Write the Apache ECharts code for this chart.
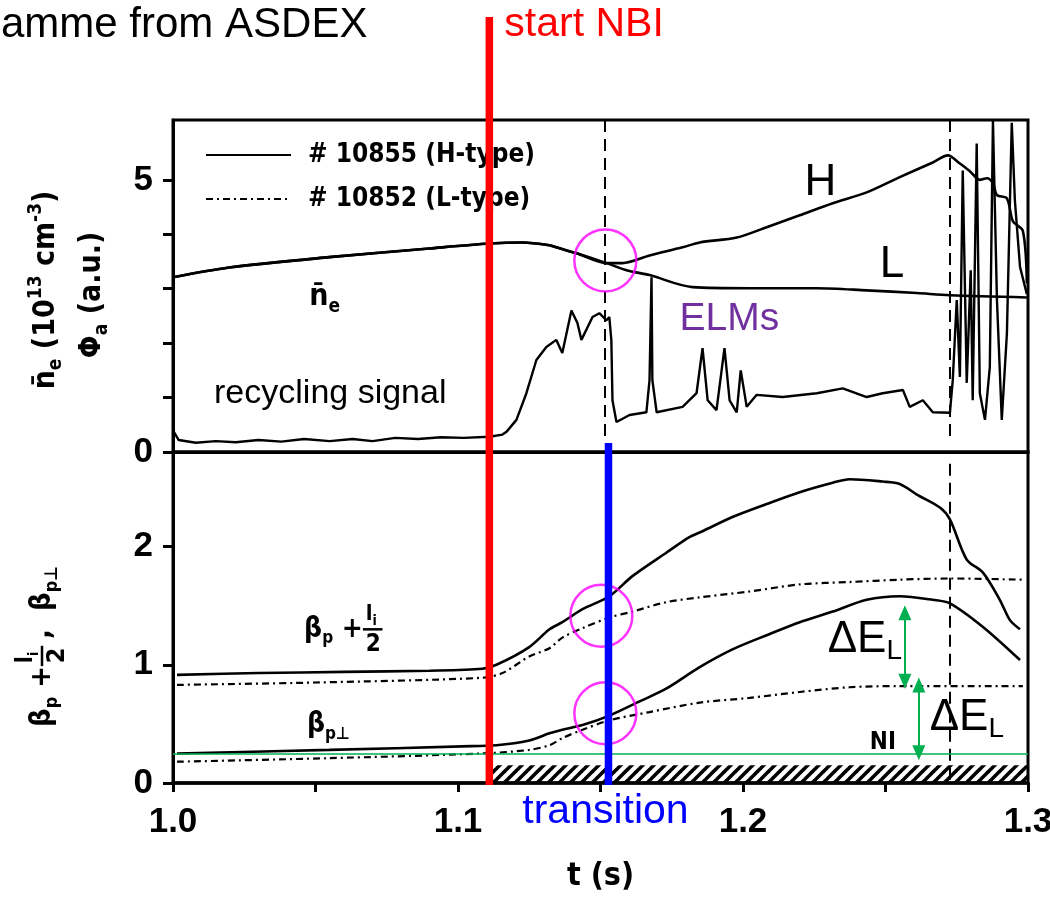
<!DOCTYPE html>
<html><head><meta charset="utf-8">
<script src="https://cdn.jsdelivr.net/npm/echarts@6/dist/echarts.min.js"></script>
<style>html,body{margin:0;padding:0;background:#fff}#c{width:1050px;height:901px}</style>
</head><body><div id="c"></div>
<script>
// ---------------- data (t in s) ----------------
const xTickValues = [1.0, 1.05, 1.1, 1.15, 1.2, 1.25, 1.3];
const xLabelValues = [1.0, 1.1, 1.2, 1.3];
const topTickValues = [0, 1, 2, 3, 4, 5];
const topLabelValues = [0, 5];
const botTickValues = [0, 1, 2];
const botLabelValues = [0, 1, 2];

const nbiStart = 1.111;
const transitionT = 1.1528;
const dashTimes = [1.1514, 1.2726];
const niLevel = 0.245;
const hatchTop = 0.15;

// top panel: line-averaged density (both shots identical before transition)
const neCommon = [[1.0,3.21],[1.0197,3.39],[1.0548,3.58],[1.0899,3.74],[1.111,3.83],[1.1226,3.85],[1.1321,3.80],[1.1345,3.76],[1.1416,3.65],[1.1521,3.47]];
const neH = [[1.1577,3.47],[1.1672,3.61],[1.1788,3.76],[1.1848,3.85],[1.1978,3.94],[1.2083,4.13],[1.2199,4.35],[1.2315,4.57],[1.2434,4.77],[1.255,5.05],[1.2666,5.32],[1.2719,5.45],[1.2761,5.30],[1.2796,5.16],[1.2831,5.0],[1.2856,5.03],[1.2877,4.94],[1.2891,4.72],[1.2926,4.66],[1.2947,4.24],[1.2982,4.06],[1.2996,3.1]];
const neL = [[1.1591,3.34],[1.1672,3.25],[1.1823,3.03],[1.2023,3.01],[1.2259,3.01],[1.2434,2.97],[1.261,2.92],[1.2726,2.88],[1.2996,2.84]];
// recycling signal (H shot)
const phiA = [[1.0,0.40],[1.002,0.22],[1.008,0.17],[1.015,0.2],[1.022,0.18],[1.03,0.22],[1.038,0.19],[1.046,0.24],[1.055,0.2],[1.063,0.24],[1.07,0.2],[1.078,0.26],[1.086,0.24],[1.094,0.27],[1.102,0.26],[1.111,0.28],[1.1156,0.32],[1.117,0.37],[1.1205,0.59],[1.124,1.08],[1.1275,1.69],[1.131,1.93],[1.1345,2.06],[1.1366,1.82],[1.1398,2.6],[1.1419,2.37],[1.1433,2.06],[1.1472,2.48],[1.1496,2.55],[1.1521,2.42],[1.1531,2.48],[1.1538,2.06],[1.1542,0.95],[1.1556,0.55],[1.1602,0.68],[1.1661,0.73],[1.1672,1.32],[1.1679,3.21],[1.1682,1.32],[1.1697,0.73],[1.1788,0.83],[1.1837,1.08],[1.1858,1.91],[1.1876,0.95],[1.1907,0.77],[1.1935,1.91],[1.1953,0.95],[1.1978,0.73],[1.1992,1.50],[1.2013,0.83],[1.2048,1.05],[1.2139,1.01],[1.2259,1.08],[1.235,1.17],[1.2434,1.01],[1.249,1.08],[1.2561,1.14],[1.2585,0.83],[1.2631,0.95],[1.2666,0.73],[1.2726,0.72],[1.2736,1.32],[1.275,2.79],[1.2761,1.38],[1.2771,5.17],[1.2785,1.27],[1.2799,3.34],[1.2806,0.95],[1.282,5.67],[1.2831,1.08],[1.2849,0.59],[1.2866,1.56],[1.2877,6.09],[1.2891,2.8],[1.2908,0.59],[1.2926,2.18],[1.2943,6.05],[1.2954,4.62],[1.2972,3.4],[1.2996,2.9]];

// bottom panel
const betaLiH = [[1.0014,0.915],[1.03,0.93],[1.06,0.94],[1.09,0.95],[1.1085,0.966],[1.1135,1.0],[1.125,1.15],[1.1321,1.30],[1.1366,1.36],[1.1437,1.47],[1.1531,1.58],[1.1612,1.75],[1.1732,1.95],[1.1812,2.08],[1.1858,2.13],[1.1963,2.25],[1.2083,2.36],[1.2199,2.46],[1.2315,2.54],[1.2374,2.57],[1.249,2.55],[1.255,2.53],[1.261,2.44],[1.2691,2.33],[1.2726,2.23],[1.2785,1.89],[1.2842,1.78],[1.2901,1.55],[1.2936,1.38],[1.2972,1.30]];
const betaLiL = [[1.0014,0.83],[1.05,0.85],[1.1085,0.89],[1.1156,0.93],[1.125,1.07],[1.1321,1.14],[1.1366,1.23],[1.1437,1.31],[1.1531,1.40],[1.1612,1.45],[1.1732,1.53],[1.1848,1.57],[1.2023,1.62],[1.2199,1.68],[1.2374,1.70],[1.255,1.72],[1.2726,1.73],[1.2982,1.72]];
const betaPerpH = [[1.0014,0.25],[1.0548,0.28],[1.1015,0.31],[1.1135,0.32],[1.125,0.36],[1.1321,0.42],[1.1366,0.45],[1.1437,0.49],[1.1531,0.57],[1.1637,0.69],[1.1732,0.80],[1.1848,0.98],[1.1963,1.13],[1.2083,1.25],[1.2199,1.36],[1.2315,1.45],[1.2434,1.55],[1.255,1.58],[1.2666,1.55],[1.2726,1.52],[1.2842,1.32],[1.2972,1.04]];
const betaPerpL = [[1.0014,0.18],[1.0548,0.21],[1.1085,0.25],[1.125,0.28],[1.1321,0.32],[1.1366,0.38],[1.1437,0.45],[1.1531,0.53],[1.1672,0.60],[1.1848,0.68],[1.2023,0.72],[1.2199,0.77],[1.2374,0.81],[1.255,0.82],[1.2982,0.82]];

const circlesTop = [[1.1517,3.52]];
const circlesBottom = [[1.1503,1.415],[1.1517,0.59]];
const arrowUpper = [[1.2568,1.44],[1.2568,0.86]];
const arrowLower = [[1.2617,0.83],[1.2617,0.255]];

// ---------------- styles ----------------
const F_SCAN = "'Liberation Sans Narrow','DejaVu Sans Condensed','DejaVu Sans',sans-serif";
const F_TICK = "'Liberation Sans',Arial,sans-serif";
const F_ARIAL = "'Liberation Sans',Arial,sans-serif";
const GREEN = '#00B050';
const MAGENTA = '#FF00FF';

function hatchCanvas(){
  const c = document.createElement('canvas'); c.width = 11; c.height = 11;
  const g = c.getContext('2d'); g.strokeStyle = '#000'; g.lineWidth = 3.6;
  [[-2,13,13,-2],[-2,2,2,-2],[9,13,13,9]].forEach(l=>{g.beginPath();g.moveTo(l[0],l[1]);g.lineTo(l[2],l[3]);g.stroke();});
  return c;
}
function scanRich(fs){
  const s = Math.round(fs*0.62);
  return {
    b:{fontFamily:F_SCAN,fontWeight:'bold',fontSize:fs,color:'#000',lineHeight:Math.round(fs*1.3)},
    s:{fontFamily:F_SCAN,fontWeight:'bold',fontSize:s,color:'#000',verticalAlign:'bottom',lineHeight:s},
    u:{fontFamily:F_SCAN,fontWeight:'bold',fontSize:s,color:'#000',verticalAlign:'top',lineHeight:s}
  };
}
const lineBase = {type:'line', symbol:'none', showSymbol:false, silent:true, animation:false, z:3};
const solid = {color:'#000', width:2.6};
const dashed = {color:'#000', width:2.2, type:[7,4,2,4]};
const axisLabelStyle = {fontFamily:F_TICK, fontWeight:'bold', fontSize:35, color:'#000'};

const chart = echarts.init(document.getElementById('c'), null, {renderer:'canvas'});

const option = {
  animation:false,
  backgroundColor:'#fff',
  grid:[
    {left:173, right:22, top:120, height:332, show:true, borderColor:'#000', borderWidth:3, outerBoundsMode:'none', containLabel:false},
    {left:173, right:22, top:452, height:331, show:true, borderColor:'#000', borderWidth:3, outerBoundsMode:'none', containLabel:false}
  ],
  legend:{
    data:['# 10855 (H-type)','# 10852 (L-type)'], orient:'vertical', left:200, top:137,
    itemWidth:85, itemHeight:20, itemGap:18, selectedMode:false,
    itemStyle:{opacity:0},
    textStyle:{fontFamily:F_SCAN, fontWeight:'bold', fontSize:26, color:'#000', padding:[0,0,0,12]}
  },
  xAxis:[
    {gridIndex:0, type:'value', min:1.0, max:1.3, axisLine:{show:true,lineStyle:{color:'#000',width:3}},
     axisTick:{show:false}, axisLabel:{show:false}, splitLine:{show:false}},
    {gridIndex:1, type:'value', min:1.0, max:1.3, axisLine:{show:true,lineStyle:{color:'#000',width:3.5}},
     axisTick:{show:true, length:9, lineStyle:{color:'#000',width:3}, customValues:xTickValues},
     axisLabel:Object.assign({customValues:xLabelValues, margin:22, formatter:v=>v.toFixed(1)}, axisLabelStyle),
     splitLine:{show:false},
     name:'t (s)', nameLocation:'middle', nameGap:78,
     nameTextStyle:{fontFamily:F_SCAN, fontWeight:'bold', fontSize:32, color:'#000'}}
  ],
  yAxis:[
    {gridIndex:0, type:'value', min:0, max:6.1, axisLine:{show:true,lineStyle:{color:'#000',width:3}},
     axisTick:{show:true, length:10, lineStyle:{color:'#000',width:3}, customValues:topTickValues},
     axisLabel:Object.assign({customValues:topLabelValues, margin:20}, axisLabelStyle), splitLine:{show:false}},
    {gridIndex:1, type:'value', min:0, max:2.8, axisLine:{show:true,lineStyle:{color:'#000',width:3}},
     axisTick:{show:true, length:10, lineStyle:{color:'#000',width:3}, customValues:botTickValues},
     axisLabel:Object.assign({customValues:botLabelValues, margin:20}, axisLabelStyle), splitLine:{show:false}}
  ],
  series:[
    Object.assign({}, lineBase, {name:'n_e H', xAxisIndex:0, yAxisIndex:0, data:neCommon.concat(neH), lineStyle:solid, smooth:0.3,
      markLine:{silent:true, symbol:['none','none'], label:{show:false}, animation:false,
        lineStyle:{color:'#000', width:2, type:[12,7]},
        data: dashTimes.map(t=>[{coord:[t,6.1]},{coord:[t,0.22]}])}}),
    Object.assign({}, lineBase, {name:'n_e L', xAxisIndex:0, yAxisIndex:0, data:neCommon.concat(neL), lineStyle:solid, smooth:0.3}),
    Object.assign({}, lineBase, {name:'Phi_a', xAxisIndex:0, yAxisIndex:0, data:phiA, lineStyle:{color:'#000',width:2.4}}),
    {type:'scatter', name:'circles top', xAxisIndex:0, yAxisIndex:0, data:circlesTop, symbol:'circle', symbolSize:62, silent:true, z:6,
      itemStyle:{color:'rgba(0,0,0,0)', borderColor:MAGENTA, borderWidth:2.5}},

    Object.assign({}, lineBase, {name:'# 10855 (H-type)', xAxisIndex:1, yAxisIndex:1, data:betaLiH, lineStyle:solid, smooth:0.3,
      markLine:{silent:true, symbol:['none','none'], label:{show:false}, animation:false,
        data:[
          [{coord:[dashTimes[1],2.7], lineStyle:{color:'#000', width:2, type:[12,7]}},{coord:[dashTimes[1],0]}],
          [{coord:[1.0,niLevel], lineStyle:{color:GREEN, width:1.6, type:'solid'}},{coord:[1.3,niLevel]}]
        ]}}),
    Object.assign({}, lineBase, {name:'# 10855 (H-type)', xAxisIndex:1, yAxisIndex:1, data:betaPerpH, lineStyle:solid, smooth:0.3,
      markLine:{silent:true, symbol:['triangle','triangle'], symbolSize:[13,15], label:{show:false}, animation:false,
        lineStyle:{color:GREEN, width:2, type:'solid'},
        data:[
          [{coord:arrowUpper[0]},{coord:arrowUpper[1]}],
          [{coord:arrowLower[0]},{coord:arrowLower[1]}]
        ]}}),
    Object.assign({}, lineBase, {name:'# 10852 (L-type)', xAxisIndex:1, yAxisIndex:1, data:betaLiL, lineStyle:dashed, smooth:0.3,
      markArea:{silent:true, animation:false, itemStyle:{color:{image:hatchCanvas(), repeat:'repeat'}},
        data:[[{coord:[nbiStart,0]},{coord:[1.3,hatchTop]}]]}}),
    Object.assign({}, lineBase, {name:'# 10852 (L-type)', xAxisIndex:1, yAxisIndex:1, data:betaPerpL, lineStyle:dashed, smooth:0.3}),
    {type:'scatter', name:'circles bottom', xAxisIndex:1, yAxisIndex:1, data:circlesBottom, symbol:'circle', symbolSize:62, silent:true, z:6,
      itemStyle:{color:'rgba(0,0,0,0)', borderColor:MAGENTA, borderWidth:2.5}}
  ]
};
chart.setOption(option);

// ---------------- annotations (positioned through the axes) ----------------
const P0 = (t,y)=>chart.convertToPixel({gridIndex:0},[t,y]);
const P1 = (t,y)=>chart.convertToPixel({gridIndex:1},[t,y]);

function txt(x,y,text,font,color,size,align,weight){
  return {type:'text', x:x, y:y, z:20, silent:true,
    style:{text:text, fontFamily:font, fontSize:size, fontWeight:weight||'normal', fill:color, align:align||'left', verticalAlign:'middle'}};
}
function richTxt(x,y,text,rich,rotation,align){
  return {type:'text', x:x, y:y, z:20, silent:true, rotation:rotation||0,
    style:{text:text, rich:rich, align:align||'left', verticalAlign:'middle'}};
}
// beta_p + l_i/2 with stacked fraction, origin at left-middle
function betaFraction(fs, ox, oy, rotation){
  const r = scanRich(fs);
  return {type:'group', x:ox, y:oy, rotation:rotation||0, z:20, silent:true, children:[
    {type:'text', x:0, y:0, style:{text:'{b|β}{s|p}{b| +}', rich:r, align:'left', verticalAlign:'middle'}},
    {type:'text', x:fs*2.2, y:-fs*0.55, style:{text:'{b|l}{s|i}', rich:scanRich(Math.round(fs*0.8)), align:'left', verticalAlign:'middle'}},
    {type:'line', shape:{x1:fs*2.1, y1:0, x2:fs*2.8, y2:0}, style:{stroke:'#000', lineWidth:2.5}},
    {type:'text', x:fs*2.2, y:fs*0.55, style:{text:'2', fontFamily:F_SCAN, fontWeight:'bold', fontSize:Math.round(fs*0.85), fill:'#000', align:'left', verticalAlign:'middle'}}
  ]};
}

const redBot = P1(nbiStart,0), blueBot = P1(transitionT,0), blueTop = P1(transitionT,2.8);
const pH = P0(1.2216,4.94), pL = P0(1.248,3.44), pELM = P0(1.1777,2.43), pRec = P0(1.0144,1.08), pNe = P0(1.0478,2.85);
const pDE1 = P1(1.2297,1.21), pDE2 = P1(1.2655,0.55), pBL = P1(1.046,1.30), pBP = P1(1.047,0.49), pNI = P1(1.2445,0.34);

const deRich = {
  d:{fontFamily:F_ARIAL, fontSize:44, color:GREEN, lineHeight:50},
  s:{fontFamily:F_ARIAL, fontSize:28, color:GREEN, verticalAlign:'bottom', lineHeight:28}
};

const graphics = [
  txt(1, 25, 'amme from ASDEX', F_ARIAL, '#000', 42),
  richTxt(46, 290, '{b|n̄}{s|e}{b| (10}{u|13}{b| cm}{u|-3}{b|)}', scanRich(30), Math.PI/2, 'center'),
  richTxt(92, 295, '{b|Φ}{s|a}{b| (a.u.)}', scanRich(30), Math.PI/2, 'center'),
  {type:'group', x:42, y:727, rotation:Math.PI/2, z:20, silent:true, children:[
    betaFraction(29, 0, 0, 0),
    {type:'text', x:88, y:0, style:{text:'{b|,  β}{s|p⊥}', rich:scanRich(29), align:'left', verticalAlign:'middle'}}
  ]},
  {type:'line', z:30, silent:true, shape:{x1:redBot[0], y1:17, x2:redBot[0], y2:redBot[1]+2}, style:{stroke:'#FF0000', lineWidth:7.5}},
  {type:'line', z:30, silent:true, shape:{x1:blueBot[0], y1:blueTop[1]-9, x2:blueBot[0], y2:blueBot[1]+2}, style:{stroke:'#0000FF', lineWidth:7.5}},
  txt(redBot[0]+15, 25, 'start NBI', F_ARIAL, '#FF0000', 41),
  txt(blueBot[0]-3, 812, 'transition', F_ARIAL, '#0000FF', 41, 'center'),
  txt(pH[0], pH[1], 'H', F_ARIAL, '#000', 44),
  txt(pL[0], pL[1], 'L', F_ARIAL, '#000', 44),
  txt(pELM[0], pELM[1], 'ELMs', F_ARIAL, '#7030A0', 39),
  txt(pRec[0], pRec[1], 'recycling signal', F_ARIAL, '#000', 34),
  richTxt(pNe[0], pNe[1], '{b|n̄}{s|e}', scanRich(30)),
  betaFraction(28, pBL[0], pBL[1], 0),
  richTxt(pBP[0], pBP[1], '{b|β}{s|p⊥}', scanRich(28)),
  txt(pNI[0], pNI[1], 'NI', F_SCAN, '#000', 24, 'left', 'bold'),
  richTxt(pDE1[0], pDE1[1], '{d|ΔE}{s|L}', deRich),
  richTxt(pDE2[0], pDE2[1], '{d|ΔE}{s|L}', deRich)
];
chart.setOption({graphic: graphics});
</script>
</body></html>
